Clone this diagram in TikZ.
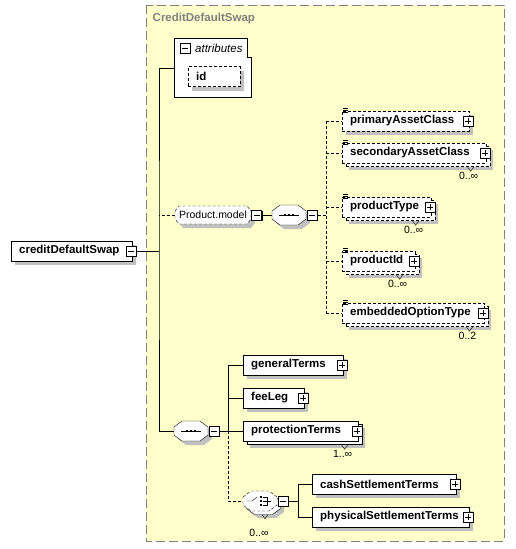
\documentclass[tikz,border=0pt]{standalone}
\usepackage{fontspec}
\setmainfont{Liberation Sans}
\usetikzlibrary{shadows}

\definecolor{grpfill}{HTML}{FFFFCC}
\definecolor{grpline}{HTML}{808080}
\definecolor{shadowgray}{HTML}{C0C0C0}

\newcommand\elemfont{\fontsize{11.5}{13}\selectfont\bfseries}
\newcommand\plainfont{\fontsize{10.5}{12}\selectfont}
\newcommand\attrfont{\fontsize{11.5}{13}\selectfont\itshape}
\newcommand\countfont{\fontsize{10.5}{12}\selectfont}

% compositor outline, centred at (#2,#3)
\newcommand\compshape[3][]{%
  \draw[fill=white, #1] (#2-17,#3-4) -- (#2-9,#3-10) -- (#2+9,#3-10) -- (#2+17,#3-4)
    -- (#2+17,#3+4) -- (#2+9,#3+10) -- (#2-9,#3+10) -- (#2-17,#3+4) -- cycle;}
\newcommand\seqsym[1]{%
  \draw ([xshift=-10pt]#1.center) -- ([xshift=10pt]#1.center);
  \foreach \d in {-4,0,4}
    \fill ([xshift=\d pt]#1.center) +(-1.4pt,-1.4pt) rectangle +(1.4pt,1.4pt);}
\newcommand\choicesym[1]{%
  \draw ([xshift=-13pt]#1.center) -- ++(5pt,0pt) -- ++(5pt,4pt);
  \foreach \d in {-4,0,4}
    \fill ([shift={(1pt,\d pt)}]#1.center) +(-1.3pt,-1.3pt) rectangle +(1.3pt,1.3pt);
  \draw ([shift={(2.5pt,4pt)}]#1.center) -- ++(4.5pt,0pt) -- ++(0pt,-8pt) -- ++(-4.5pt,0pt)
    ([shift={(2.5pt,0pt)}]#1.center) -- ++(8pt,0pt);}

\tikzset{
  elem/.style={draw, fill=white, font=\elemfont, anchor=west, minimum height=20pt,
    inner xsep=8pt, inner ysep=0pt, text width=#1, align=left},
  optional/.style={dash pattern=on 3pt off 2pt},
  single/.style={drop shadow={shadow xshift=4pt, shadow yshift=-4pt, fill=shadowgray, opacity=1}},
  multi/.style={drop shadow={shadow xshift=7pt, shadow yshift=-7pt, fill=shadowgray, opacity=1},
    copy shadow={shadow xshift=3.5pt, shadow yshift=-3.5pt, draw=black, fill=white}},
  compnode/.style={inner sep=0pt, minimum width=34pt, minimum height=20pt},
  expander/.style={draw, fill=white, minimum size=10pt, inner sep=0pt, line width=0.8pt,
    drop shadow={shadow xshift=0.8pt, shadow yshift=-0.8pt, fill=black, opacity=1}},
  plusbox/.style={expander, path picture={
    \draw[line width=0.8pt] ([xshift=2pt]path picture bounding box.west) -- ([xshift=-2pt]path picture bounding box.east)
      ([yshift=-2pt]path picture bounding box.north) -- ([yshift=2pt]path picture bounding box.south);}},
  minusbox/.style={expander, path picture={
    \draw[line width=0.8pt] ([xshift=2pt]path picture bounding box.west) -- ([xshift=-2pt]path picture bounding box.east);}},
  count/.style={font=\countfont, inner sep=0pt}
}

\begin{document}
\begin{tikzpicture}[x=1pt, y=-1pt]
\useasboundingbox (0,0) rectangle (515,549);
% complex type box
\draw[grpline, fill=grpfill, line width=1pt, dash pattern=on 9pt off 4pt] (146,5) rectangle (504,541);
\node[anchor=west, inner sep=0pt, font=\elemfont, text=grpline] (title) at (152.5,19) {CreditDefaultSwap};

% root element
\node[elem=105, single] (cds) at (11,251) {creditDefaultSwap};
\node[minusbox] (cdsm) at ([xshift=-1.5pt]cds.east) {};
\coordinate (trunk) at (159,251);

% attributes
\draw[fill=white] (174,38) -- (247,38) -- (247,57) -- (251,57) -- (251,97) -- (174,97) -- cycle;
\coordinate (attr) at (174,68);
\node[minusbox] (attrm) at (185,48.5) {};
\node[anchor=west, inner sep=0pt, font=\attrfont] (attrl) at (195,48) {attributes};
\node[elem=36, optional, single] (id) at (188,76.5) {id};

% Product.model group
\draw[fill=white, optional, single] (175,211) -- (179,206) -- (247,206) -- (251,211)
  -- (251,219) -- (247,224) -- (179,224) -- (175,219) -- cycle;
\node[inner sep=0pt, minimum width=76pt, minimum height=18pt, font=\plainfont] (pm) at (213,215) {Product.model};
\node[minusbox] (pmm) at ([xshift=5.5pt]pm.east) {};
\compshape[single]{289}{215}
\node[compnode] (seq1) at (289,215) {};
\seqsym{seq1}
\node[minusbox] (seq1m) at ([xshift=6pt]seq1.east) {};
\coordinate (pmtrunk) at (326,215);

\node[elem=111, optional, single] (pac) at (342,121) {primaryAssetClass};
\node[elem=128, optional, multi] (sac) at (342,153) {secondaryAssetClass};
\node[elem=73, optional, multi] (pt) at (342,207) {productType};
\node[elem=57, optional, multi] (pid) at (342,261) {productId};
\node[elem=126, optional, multi] (eot) at (342,313) {embeddedOptionType};

% sequence of terms
\compshape[single]{191}{431}
\node[compnode] (seq2) at (191,431) {};
\seqsym{seq2}
\node[minusbox] (seq2m) at ([xshift=6pt]seq2.east) {};
\coordinate (seqtrunk) at (228,431);

\node[elem=84, single] (gt) at (243,365) {generalTerms};
\node[elem=45, single] (fl) at (243,398) {feeLeg};
\node[elem=99, multi] (pct) at (243,431) {protectionTerms};

% settlement choice
\compshape[optional, multi]{260}{501}
\node[compnode] (ch) at (260,501) {};
\choicesym{ch}
\node[minusbox] (chm) at ([xshift=6pt]ch.east) {};
\coordinate (chtrunk) at (298,501);

\node[elem=128, single] (cst) at (312,484) {cashSettlementTerms};
\node[elem=141, single] (pst) at (312,517) {physicalSettlementTerms};

% expand boxes
\foreach \n in {pac,sac,pt,pid,eot,gt,fl,pct,cst,pst}
  \node[plusbox] (\n-p) at ([xshift=-1.5pt]\n.east) {};
\foreach \n in {pac,sac,pt,pid,eot}
  \draw[line width=0.7pt] ([shift={(1pt,2pt)}]\n.north west) -- ++(5pt,0pt) ++(-5pt,-1.8pt) -- ++(5pt,0pt) ++(-5pt,-1.8pt) -- ++(5pt,0pt);

% occurrences
\node[count, anchor=north east] (sac-n) at ([xshift=-8pt,yshift=-9pt]sac.south east) {0..∞};
\node[count, anchor=north east] (pt-n) at ([xshift=-8pt,yshift=-9pt]pt.south east) {0..∞};
\node[count, anchor=north east] (pid-n) at ([xshift=-8pt,yshift=-9pt]pid.south east) {0..∞};
\node[count, anchor=north east] (eot-n) at ([xshift=-8pt,yshift=-9pt]eot.south east) {0..2};
\node[count, anchor=north east] (pct-n) at ([xshift=-6pt,yshift=-9pt]pct.south east) {1..∞};
\node[count, anchor=north] (ch-n) at ([xshift=-1pt,yshift=-18pt]ch.south) {0..∞};
\foreach \n in {sac,pt,pid,eot,pct}
  \draw ([shift={(-1pt,5pt)}]\n-n.north) -- ++(3pt,-4pt) -- ++(3pt,4pt);
\draw ([shift={(2pt,-3.5pt)}]ch.south) -- ++(3pt,-4pt) -- ++(3pt,4pt);

% connectors
\draw (cdsm.east) -- (trunk);
\draw (attr) -| (trunk) |- (seq2.west);
\draw[optional] (pm.west) -- (pm.west -| trunk);
\draw (pmm.east) -- (seq1.west);
\draw[optional] (seq1m.east) -- (pmtrunk);
\draw[optional] (pac.west -| pmtrunk) -- (eot.west -| pmtrunk);
\foreach \n in {pac,sac,pt,pid,eot}
  \draw[optional] (\n.west -| pmtrunk) -- (\n.west);
\draw (seq2m.east) -- (seqtrunk);
\draw (gt.west -| seqtrunk) -- (pct.west -| seqtrunk);
\foreach \n in {gt,fl,pct}
  \draw (\n.west -| seqtrunk) -- (\n.west);
\draw[optional] (seqtrunk) |- (ch.west);
\draw (chm.east) -- (chtrunk);
\draw (cst.west -| chtrunk) -- (pst.west -| chtrunk);
\foreach \n in {cst,pst}
  \draw (\n.west -| chtrunk) -- (\n.west);
\end{tikzpicture}
\end{document}
